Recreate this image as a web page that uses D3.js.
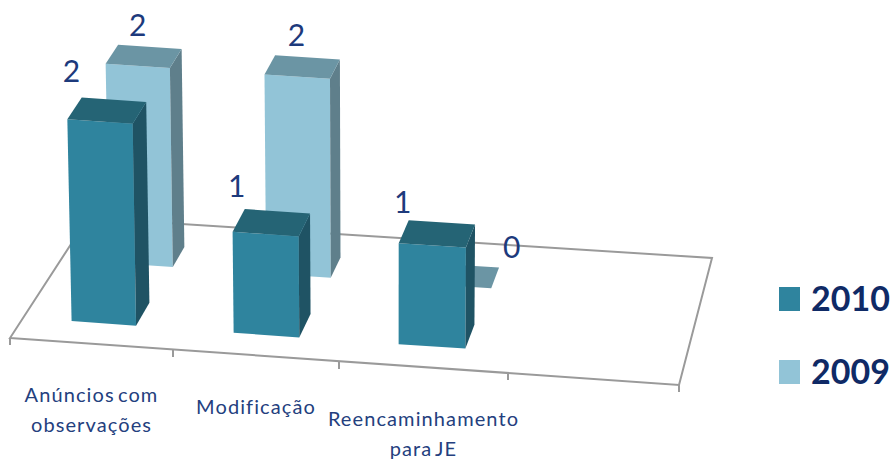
<!DOCTYPE html>
<html>
<head>
<meta charset="utf-8">
<script src="https://cdn.jsdelivr.net/npm/d3@7/dist/d3.min.js"></script>
<style>
html,body{margin:0;padding:0;background:#fff}
svg{display:block}
text{font-family:Lato,"Open Sans",sans-serif}
</style>
</head>
<body>
<svg id="chart" width="895" height="461"></svg>
<script>
// Anúncios by type, two years
const categories = [["Anúncios com","observações"],["Modificação"],["Reencaminhamento","para JE"]];
const years = ["2010","2009"];
const values2010 = [2,1,1];
const values2009 = [2,2,0];
const valueDomain = [0,2];
const slotCount = 4;
const slots = d3.range(slotCount+1);

const svg = d3.select("#chart");

// Floor of the 3D plot: front and back edges along the category axis.
// Slots widen toward the right because of the perspective.
const frontX = d3.scaleLinear().domain(slots).range([10,173,339,508,679]);
const frontY = d3.scaleLinear().domain(slots).range([338,350,362,373,385]);
const backX  = d3.scaleLinear().domain(slots).range([88,240,395,552,712]);
const backY  = d3.scaleLinear().domain(slots).range([218,228,238,248,258]);
const heightPx = d3.scaleLinear().domain(valueDomain).range([0,203]);
const leanCentre = 385, leanRate = 0.0068;

// u: along the category axis, v: depth (0 front, 1 back), z: value
function project(u,v,z){
  const x=d3.interpolateNumber(frontX(u),backX(u))(v);
  const y=d3.interpolateNumber(frontY(u),backY(u))(v);
  return [x+(x-leanCentre)*leanRate*z, y-heightPx(z)*(1-0.03*v)];
}
const poly = d3.line().curve(d3.curveLinearClosed);

// Series order is back to front so the nearer bars cover the farther ones
const seriesSpec = [
  {name:"2009",values:values2009,v:[0.655,0.82],u:[0.31,0.717],front:"#92c4d7",top:"#6b95a4",side:"#5f7f8b",lx:32,ly:-38,nudge:[0,0,0]},
  {name:"2010",values:values2010,v:[0.17,0.36],u:[0.3,0.7],front:"#2f849e",top:"#256475",side:"#1f5364",lx:4,ly:-47,nudge:[0,2,7]}
];

// Floor outline
const floorG = svg.append("g").attr("fill","none").attr("stroke","#9a9a9a").attr("stroke-width",2);
floorG.append("path").attr("d",poly([project(0,0,0),project(slotCount,0,0),project(slotCount,1,0),project(0,1,0)]));
slots.forEach(i=>{
  const p=project(i,0,0);
  floorG.append("line").attr("x1",p[0]).attr("x2",p[0]).attr("y1",p[1]).attr("y2",p[1]+7);
});

// Bars
seriesSpec.forEach(s=>{
  const g=svg.append("g").attr("class","series-"+s.name);
  s.values.forEach((val,i)=>{
    const [u0,u1]=[i+s.u[0],i+s.u[1]], [v0,v1]=s.v;
    if(val>0){
      g.append("path").attr("fill",s.front).attr("d",poly([project(u0,v0,0),project(u1,v0,0),project(u1,v0,val),project(u0,v0,val)]));
      g.append("path").attr("fill",s.side).attr("d",poly([project(u1,v0,0),project(u1,v1,0),project(u1,v1,val),project(u1,v0,val)]));
    }
    g.append("path").attr("fill",s.top).attr("d",poly([project(u0,v0,val),project(u1,v0,val),project(u1,v1,val),project(u0,v1,val)]));
  });
});

// Value labels, placed in a second pass so they sit above every bar
seriesSpec.forEach(s=>{
  s.values.forEach((val,i)=>{
    const p=project(i+s.u[0],s.v[0],val);
    const zero=val===0;
    svg.append("text")
      .attr("x",p[0]+(zero?86:s.lx))
      .attr("y",p[1]+(zero?-26:s.ly+10+s.nudge[i]))
      .attr("text-anchor","middle")
      .attr("font-size",30)
      .attr("fill","#1d3a7c")
      .text(val);
  });
});

// Category labels below the front edge
categories.forEach((lines,i)=>{
  const p=project(i+0.5,0,0);
  lines.forEach((line,j)=>{
    svg.append("text")
      .attr("x",p[0])
      .attr("y",p[1]+58+j*30)
      .attr("text-anchor","middle")
      .attr("font-size",20)
      .attr("letter-spacing",1.1)
      .attr("word-spacing",-3)
      .attr("fill","#24407e")
      .text(line);
  });
});

// Legend
const legendY = d3.scalePoint().domain(years).range([287,360]);
const legend = svg.append("g");
seriesSpec.forEach(s=>{
  legend.append("rect").attr("x",779).attr("y",legendY(s.name)).attr("width",21).attr("height",24).attr("fill",s.front);
  legend.append("text").attr("x",811).attr("y",legendY(s.name)+24)
    .attr("font-size",34).attr("font-weight",700).attr("fill","#0f2a66").text(s.name);
});
</script>
</body>
</html>
